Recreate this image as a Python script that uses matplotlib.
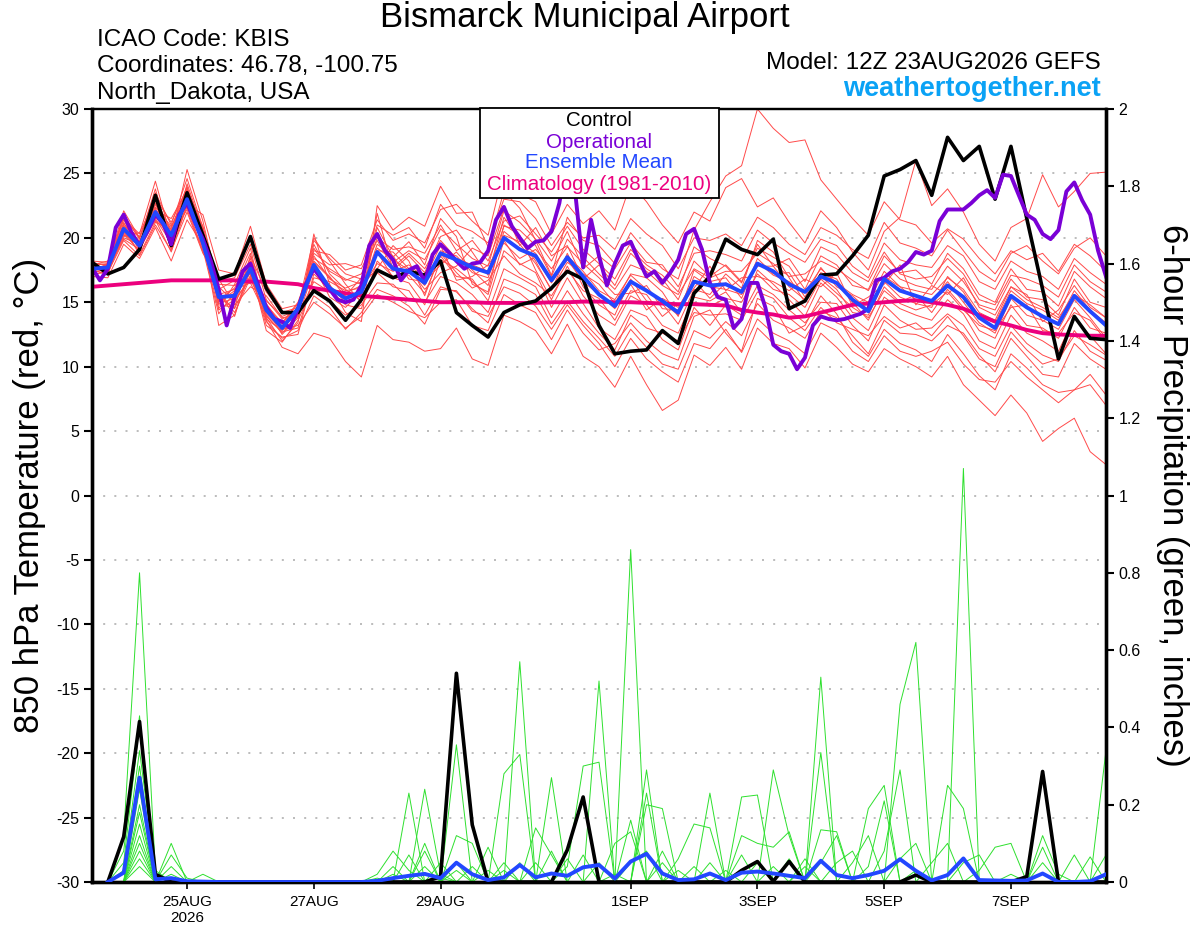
import numpy as np
import pandas as pd
import matplotlib
matplotlib.use("Agg")
import matplotlib.pyplot as plt
from matplotlib.patches import Rectangle

plt.rcParams['font.family'] = ['Liberation Sans', 'DejaVu Sans']

# ---------------- data ----------------
run_start = "2026-08-23 12:00"
tick_dates = ["2026-08-25", "2026-08-27", "2026-08-29", "2026-09-01",
              "2026-09-03", "2026-09-05", "2026-09-07"]
tick_labels = ["25AUG\n2026", "27AUG", "29AUG", "1SEP", "3SEP", "5SEP", "7SEP"]

temp_ticks = [-30, -25, -20, -15, -10, -5, 0, 5, 10, 15, 20, 25, 30]
precip_ticks = [0, 0.2, 0.4, 0.6, 0.8, 1.0, 1.2, 1.4, 1.6, 1.8, 2.0]
precip_tick_labels = ["0", "0.2", "0.4", "0.6", "0.8", "1", "1.2", "1.4", "1.6", "1.8", "2"]

# 850 hPa temperature, 6-hourly (control, ensemble mean, climatology)
control_t = [18.1, 17.2, 17.7, 19.1, 23.3, 19.4, 23.5, 20.2, 16.8, 17.2,
             20.1, 16.1, 14.2, 14.2, 15.9, 15.1, 13.6, 15.2, 17.5, 16.9,
             17.4, 17.1, 18.2, 14.2, 13.2, 12.3, 14.2, 14.8, 15.1, 16.1,
             17.4, 16.8, 13.2, 11.0, 11.2, 11.3, 12.8, 11.8, 15.7, 17.0,
             19.9, 19.1, 18.7, 19.9, 14.5, 15.1, 17.1, 17.2, 18.6, 20.2,
             24.8, 25.3, 26.0, 23.3, 27.8, 26.0, 27.1, 23.0, 27.1, 21.5,
             16.0, 10.6, 13.9, 12.2, 12.1]
mean_t = [17.6, 17.7, 20.7, 19.4, 22.0, 20.2, 23.0, 19.6, 15.4, 15.5,
          17.6, 14.4, 13.0, 14.5, 17.9, 16.1, 15.3, 15.8, 18.9, 17.6,
          17.4, 16.5, 18.8, 18.3, 17.7, 17.3, 20.0, 19.1, 18.6, 16.7,
          18.5, 17.0, 15.6, 14.7, 16.6, 15.9, 15.1, 14.2, 16.6, 16.3,
          16.4, 15.8, 18.0, 17.4, 16.4, 15.8, 17.0, 16.5, 15.2, 14.3,
          16.8, 15.9, 15.5, 15.1, 16.3, 15.4, 13.8, 13.0, 15.5, 14.6,
          13.9, 13.3, 15.5, 14.3, 13.2]
climo_t = [16.2, 16.3, 16.4, 16.5, 16.6, 16.7, 16.7, 16.7, 16.7, 16.7,
           16.6, 16.6, 16.5, 16.4, 16.1, 15.9, 15.7, 15.5, 15.4, 15.3,
           15.2, 15.1, 15.0, 15.0, 15.0, 14.95, 14.95, 14.95, 14.95, 15.0,
           15.0, 15.05, 15.05, 15.0, 15.0, 14.95, 14.9, 14.85, 14.85, 14.8,
           14.75, 14.4, 14.2, 14.05, 13.8, 13.9, 14.2, 14.5, 14.8, 14.9,
           15.0, 15.1, 15.15, 15.0, 14.8, 14.5, 14.0, 13.5, 13.2, 12.85,
           12.6, 12.5, 12.45, 12.4, 12.4]

# operational run, 3-hourly
oper_t = [17.7, 16.7, 17.6, 20.8, 21.8, 20.4, 19.4, 20.5, 21.8, 21.1,
          19.5, 21.8, 22.7, 21.2, 19.9, 18.2, 16.0, 13.2, 15.4, 17.4,
          18.0, 16.3, 14.6, 13.7, 13.5, 13.0, 14.5, 16.4, 17.6, 16.8,
          16.0, 15.2, 15.0, 15.2, 16.3, 19.4, 20.3, 19.0, 18.3, 16.7,
          17.5, 17.8, 16.6, 18.7, 19.5,
          18.9, 18.2, 17.6, 18.0, 18.1, 19.0, 21.4, 22.4, 20.9, 20.0,
          19.2, 19.7, 19.8, 20.5, 22.7, 26.5, 23.5, 17.7, 21.4, 18.6,
          16.3, 18.0, 19.4, 19.7, 18.3, 17.0, 17.4, 16.5, 17.3, 18.3,
          20.3, 20.7, 19.1, 16.5, 15.4, 15.2, 13.0, 13.7, 16.5, 16.5,
          14.6,
          11.7, 11.2, 11.0, 9.8, 10.7, 13.2, 13.9, 13.7, 13.6, 13.7,
          13.9, 14.1, 14.5, 16.7, 16.9, 17.4, 17.6, 18.1, 18.9, 18.7,
          19.0, 21.3, 22.2, 22.2, 22.2, 22.7, 23.3, 23.7, 23.1, 24.9,
          24.8, 23.3, 21.8, 21.4, 20.3, 19.9, 20.6, 23.6, 24.3, 22.9,
          21.8, 19.0, 17.0]

# ensemble members, 850 hPa temperature, 6-hourly
mem_t01 = [17.8, 17.5, 21.2, 19.0, 22.6, 20.5, 23.8, 20.1, 15.0, 15.9, 18.2, 14.0, 12.6, 14.0,
           19.5, 17.2, 16.0, 15.1, 20.8, 18.5, 19.7, 17.9, 21.5, 20.1, 16.4, 15.8, 21.0, 20.2, 17.5, 15.2, 17.8, 15.5,
           14.0, 13.2, 15.5, 14.8, 13.2, 12.6, 15.4, 15.1, 15.8, 14.2, 17.5, 16.4, 15.2, 13.9, 16.5, 15.4, 13.8,
           12.8, 15.4, 14.5, 14.0, 13.6, 15.2, 14.1, 12.0, 11.4, 14.0, 12.6, 12.0, 11.2, 13.8, 12.4, 11.0]
mem_t02 = [17.4, 18.0, 20.2, 19.8, 21.5, 19.6, 22.4, 19.0, 16.2, 15.0, 17.0, 14.8, 13.4, 15.0,
           18.4, 17.6, 16.8, 16.4, 19.0, 18.9, 17.6, 16.0, 17.3, 17.8, 19.2, 18.6, 22.3, 19.4, 20.8, 18.6, 19.4, 16.8,
           17.9, 16.3, 18.8, 17.6, 16.8, 15.2, 18.2, 17.0, 17.9, 16.6, 19.2, 18.5, 17.8, 16.0, 18.6, 17.9, 16.3,
           16.0, 18.6, 17.3, 17.5, 16.4, 18.8, 17.6, 15.6, 15.0, 17.6, 16.0, 15.8, 14.7, 17.4, 16.2, 15.3]
mem_t03 = [18.0, 17.9, 22.1, 20.0, 23.5, 21.0, 24.6, 20.8, 14.5, 16.4, 19.2, 13.8, 12.0, 13.4,
           20.3, 16.4, 14.2, 13.5, 22.5, 20.6, 21.6, 20.9, 24.0, 21.9, 22.0, 19.3, 23.6, 22.3, 19.8, 17.1, 21.6, 19.8,
           19.4, 18.0, 20.4, 18.9, 17.6, 16.8, 20.6, 22.8, 24.8, 25.6, 30.0, 28.5, 27.4, 27.6, 24.5, 23.0, 21.5,
           20.2, 22.8, 21.4, 21.0, 19.6, 20.7, 19.9, 18.4, 17.2, 19.0, 18.3, 18.8, 17.4, 19.5, 18.6, 17.4]
mem_t04 = [17.2, 17.3, 19.8, 18.6, 21.0, 19.0, 22.0, 18.8, 16.8, 14.8, 16.2, 15.5, 13.8, 14.0,
           16.6, 15.8, 15.5, 16.9, 17.3, 16.2, 15.9, 14.0, 16.2, 15.8, 14.5, 13.4, 16.8, 16.3, 15.6, 13.3, 15.1, 13.5,
           12.2, 10.8, 12.9, 11.5, 10.2, 9.8, 12.8, 12.2, 13.5, 12.4, 14.9, 13.6, 13.0, 12.2, 14.3, 13.8, 12.4,
           11.0, 13.6, 12.6, 12.5, 12.0, 13.2, 12.6, 10.9, 9.6, 12.2, 10.8, 9.4, 9.2, 11.8, 10.6, 9.8]
mem_t05 = [17.6, 17.8, 20.6, 19.6, 22.4, 20.9, 23.3, 20.5, 15.8, 13.9, 18.0, 13.6, 11.5, 11.0,
           12.6, 12.2, 10.4, 9.2, 13.2, 12.1, 11.9, 11.2, 11.4, 13.0, 10.6, 10.1, 14.0, 13.5, 12.8, 11.0, 13.3, 10.8,
           10.0, 8.4, 10.8, 8.6, 6.6, 7.4, 10.9, 10.1, 11.5, 9.8, 13.0, 11.8, 11.4, 9.9, 12.6, 11.5, 10.2,
           9.6, 11.4, 10.6, 10.0, 9.2, 10.8, 8.6, 7.4, 6.2, 7.8, 6.4, 4.2, 5.2, 6.0, 3.4, 2.4]
mem_t06 = [18.2, 18.1, 21.5, 20.3, 24.4, 20.0, 25.3, 21.3, 16.0, 16.7, 17.3, 15.1, 13.9, 14.4,
           19.0, 18.7, 17.5, 17.9, 21.4, 19.8, 20.3, 19.6, 22.2, 22.6, 21.3, 20.2, 25.2, 23.4, 22.8, 20.3, 22.6, 21.1,
           22.1, 20.6, 24.2, 22.8, 21.0, 19.6, 22.0, 21.3, 23.9, 24.6, 22.4, 23.1, 21.2, 19.6, 22.1, 20.8, 18.9,
           17.5, 20.5, 21.6, 26.0, 22.5, 23.8, 22.0, 19.5, 18.2, 20.8, 21.5, 24.9, 22.4, 23.6, 25.0, 25.1]
mem_t07 = [17.0, 16.9, 19.5, 18.4, 20.8, 18.2, 21.4, 19.4, 14.4, 15.2, 16.8, 14.1, 12.9, 13.2,
           15.0, 14.1, 13.0, 13.9, 15.6, 15.0, 14.3, 13.8, 15.0, 15.2, 13.2, 12.8, 15.6, 14.8, 14.2, 12.1, 14.4, 12.6,
           11.3, 11.8, 13.4, 12.0, 11.0, 10.5, 13.9, 14.4, 12.6, 11.2, 15.3, 14.7, 12.6, 13.2, 15.5, 14.1, 11.9,
           10.8, 12.9, 11.8, 11.3, 10.4, 12.5, 11.0, 9.3, 8.2, 11.0, 9.9, 8.6, 8.0, 8.2, 9.4, 7.8]
mem_t08 = [17.7, 17.6, 21.0, 19.2, 22.1, 21.5, 23.7, 20.0, 13.2, 14.0, 17.5, 13.2, 12.3, 12.5,
           17.2, 16.0, 14.8, 14.5, 18.2, 17.0, 17.1, 15.7, 18.6, 17.0, 16.8, 15.1, 19.0, 18.0, 17.3, 14.6, 16.9, 14.9,
           13.0, 12.1, 14.4, 13.9, 12.1, 11.3, 14.6, 13.2, 14.8, 14.0, 16.3, 15.6, 14.4, 13.4, 15.0, 14.9, 13.2,
           12.0, 14.8, 13.6, 12.9, 13.0, 14.1, 13.2, 11.4, 10.8, 13.2, 11.8, 10.9, 10.4, 12.8, 11.2, 10.5]
mem_t09 = [17.9, 18.2, 20.9, 20.1, 23.0, 20.6, 22.6, 21.8, 17.5, 17.2, 20.9, 16.4, 14.5, 14.8,
           18.8, 17.9, 18.0, 17.6, 20.2, 18.1, 19.0, 18.3, 20.7, 19.5, 18.4, 17.8, 22.1, 21.2, 19.9, 18.2, 20.5, 17.6,
           18.6, 17.6, 19.6, 18.1, 17.9, 16.2, 18.8, 19.0, 18.7, 18.2, 20.6, 19.6, 18.8, 18.1, 19.9, 19.4, 17.8,
           16.9, 19.6, 18.3, 17.9, 17.7, 19.4, 18.6, 16.6, 16.0, 18.2, 17.4, 17.0, 16.0, 18.4, 17.3, 16.4]
mem_t10 = [17.5, 17.2, 20.3, 19.0, 21.7, 19.8, 22.9, 19.3, 15.1, 15.7, 17.9, 14.6, 13.3, 14.9,
           17.8, 15.4, 14.6, 15.8, 19.5, 18.6, 16.8, 16.6, 17.9, 18.9, 17.5, 16.3, 20.5, 19.5, 18.0, 16.0, 18.1, 17.2,
           16.4, 14.9, 17.2, 16.9, 15.8, 13.9, 17.5, 16.6, 16.9, 15.3, 18.4, 17.2, 17.3, 15.4, 17.7, 16.2, 15.5,
           14.4, 17.0, 16.2, 15.2, 15.1, 16.6, 15.0, 13.4, 12.6, 15.3, 14.0, 13.6, 12.9, 15.2, 13.8, 12.2]
mem_t11 = [17.3, 17.6, 20.0, 19.5, 21.3, 20.4, 23.1, 19.7, 15.6, 16.0, 16.5, 13.9, 12.7, 13.0,
           16.9, 16.6, 15.9, 16.1, 18.0, 17.4, 17.9, 16.9, 19.4, 16.7, 17.0, 17.9, 19.6, 18.4, 19.1, 17.6, 19.3, 18.0,
           16.9, 15.6, 15.7, 16.3, 14.5, 14.4, 16.1, 17.8, 15.9, 16.9, 17.0, 16.6, 15.9, 16.8, 16.2, 17.3, 14.7,
           15.4, 16.4, 17.9, 14.8, 16.3, 15.6, 16.9, 14.6, 14.0, 16.2, 15.6, 13.5, 14.4, 16.3, 14.6, 13.8]
mem_t12 = [18.1, 17.8, 21.8, 19.9, 23.8, 19.4, 24.2, 20.6, 14.8, 14.6, 18.6, 15.8, 14.2, 14.6,
           20.0, 18.2, 16.4, 15.0, 21.9, 17.5, 18.6, 17.3, 20.1, 20.6, 18.9, 17.1, 21.6, 19.8, 18.2, 15.9, 18.8, 16.2,
           14.8, 14.0, 16.8, 15.1, 14.9, 13.3, 16.0, 15.6, 17.2, 16.1, 19.8, 18.9, 16.9, 15.0, 17.3, 16.8, 15.0,
           13.6, 16.2, 15.0, 15.6, 14.2, 16.0, 14.6, 12.8, 12.2, 14.8, 13.2, 13.0, 12.2, 14.6, 13.0, 12.6]
mem_t13 = [17.6, 17.4, 20.5, 18.9, 22.3, 20.1, 22.2, 18.9, 16.4, 16.3, 17.2, 14.3, 13.5, 14.2,
           18.1, 16.9, 15.7, 16.3, 17.6, 19.4, 18.2, 15.5, 18.8, 17.3, 16.1, 16.7, 18.6, 17.2, 16.5, 15.5, 17.5, 15.9,
           15.3, 13.6, 15.9, 15.6, 13.9, 14.9, 15.0, 14.7, 15.3, 15.0, 17.2, 16.0, 15.6, 14.6, 16.8, 15.7, 14.6,
           13.8, 15.9, 14.9, 14.4, 14.8, 15.8, 14.4, 13.2, 12.8, 14.6, 14.8, 12.8, 12.6, 14.2, 13.6, 12.0]
mem_t14 = [17.4, 17.9, 21.4, 19.3, 21.8, 20.8, 23.5, 20.3, 15.3, 15.4, 17.7, 12.8, 11.9, 13.6,
           16.2, 15.1, 14.0, 14.8, 16.5, 16.4, 15.2, 15.0, 17.0, 16.5, 15.6, 14.2, 17.6, 16.9, 16.2, 13.8, 15.9, 14.1,
           12.6, 11.3, 14.0, 13.0, 12.6, 12.0, 14.2, 14.0, 14.1, 13.6, 15.8, 15.3, 13.8, 12.8, 14.6, 13.4, 12.9,
           12.4, 13.9, 13.0, 13.4, 12.4, 13.9, 12.4, 10.6, 10.0, 12.7, 11.3, 10.2, 10.6, 12.4, 11.7, 10.9]
mem_t15 = [17.8, 17.7, 20.1, 20.4, 22.9, 19.1, 22.7, 19.8, 15.9, 14.2, 16.9, 14.9, 13.1, 14.1,
           19.2, 17.4, 16.7, 17.2, 19.8, 17.7, 18.8, 17.6, 19.8, 18.4, 17.9, 17.4, 20.9, 20.6, 19.4, 17.0, 19.9, 18.5,
           17.2, 16.0, 17.9, 17.4, 16.3, 15.6, 17.6, 16.9, 17.4, 17.4, 18.8, 18.0, 17.0, 17.2, 18.2, 17.6, 16.7,
           15.9, 18.0, 16.8, 16.3, 16.0, 17.8, 16.6, 14.8, 14.4, 16.8, 15.4, 15.2, 14.0, 16.8, 15.0, 14.6]
mem_t16 = [17.5, 17.6, 20.8, 18.7, 21.2, 20.7, 24.0, 19.1, 14.1, 15.8, 18.4, 14.5, 12.5, 13.8,
           17.5, 16.3, 15.0, 15.6, 18.9, 16.9, 16.5, 14.8, 18.3, 17.6, 16.6, 15.6, 19.8, 17.9, 18.5, 16.5, 18.3, 16.6,
           15.6, 14.5, 16.4, 14.4, 15.3, 14.6, 16.7, 15.3, 16.5, 15.8, 17.8, 17.8, 16.2, 15.2, 17.0, 16.0, 14.2,
           14.0, 16.6, 15.4, 14.9, 14.6, 17.0, 15.8, 13.9, 13.4, 15.9, 14.9, 14.4, 13.6, 15.9, 14.4, 13.4]
mem_t17 = [17.9, 18.0, 21.1, 19.7, 22.7, 19.9, 23.4, 20.9, 16.6, 16.9, 19.5, 15.2, 13.7, 14.3,
           18.6, 16.8, 16.1, 16.6, 20.0, 19.1, 19.3, 18.8, 21.0, 19.0, 19.8, 18.2, 21.3, 21.7, 20.3, 18.9, 20.9, 19.1,
           18.0, 16.8, 19.1, 17.9, 17.1, 15.8, 19.3, 18.4, 17.8, 16.5, 19.5, 17.8, 18.4, 16.6, 19.3, 18.7, 17.3,
           16.6, 18.9, 17.2, 16.8, 17.0, 18.4, 17.2, 15.2, 14.8, 17.1, 16.8, 16.3, 15.4, 17.9, 16.6, 15.8]
mem_t18 = [17.1, 17.5, 19.9, 19.1, 21.4, 18.9, 22.5, 19.5, 15.5, 14.5, 17.1, 13.5, 12.2, 12.8,
           15.5, 14.6, 12.9, 14.2, 16.0, 15.5, 14.7, 13.3, 16.0, 15.9, 14.3, 13.9, 16.2, 15.7, 14.7, 12.9, 14.8, 13.2,
           11.8, 10.0, 12.2, 10.6, 9.6, 8.8, 11.8, 11.4, 12.9, 11.1, 13.7, 12.6, 12.0, 11.0, 13.4, 12.8, 11.2,
           10.4, 12.4, 11.2, 10.8, 11.2, 11.9, 10.2, 9.0, 8.8, 10.4, 9.2, 8.2, 7.2, 8.2, 8.6, 7.0]
mem_t19 = [17.7, 17.3, 20.4, 19.4, 22.2, 20.3, 23.2, 20.2, 14.9, 15.3, 18.1, 14.2, 13.0, 14.7,
           18.2, 17.0, 15.4, 15.9, 19.2, 18.3, 17.5, 16.3, 19.0, 18.6, 17.3, 16.9, 20.2, 19.7, 18.8, 16.8, 18.6, 17.4,
           15.9, 15.2, 17.1, 16.0, 15.0, 14.0, 17.0, 16.2, 16.0, 15.6, 18.1, 17.1, 16.6, 15.8, 17.6, 16.5, 15.6,
           15.0, 17.4, 16.2, 15.9, 15.6, 16.9, 16.0, 14.2, 13.6, 16.2, 15.2, 14.6, 13.8, 15.6, 14.8, 13.8]
mem_t20 = [18.0, 17.9, 21.6, 20.0, 23.1, 21.2, 23.9, 20.7, 15.2, 16.1, 18.8, 13.7, 12.8, 13.9,
           19.8, 18.4, 17.2, 16.8, 21.0, 20.2, 20.8, 19.2, 22.6, 21.0, 20.5, 19.6, 23.0, 22.8, 21.5, 19.4, 21.2, 20.0,
           20.2, 19.1, 21.5, 20.3, 19.4, 17.6, 20.0, 19.8, 20.3, 19.4, 21.6, 20.8, 19.5, 18.7, 20.8, 20.2, 19.1,
           18.4, 21.2, 19.6, 19.2, 18.6, 20.6, 19.0, 17.4, 16.6, 18.8, 19.4, 18.2, 17.2, 19.2, 20.0, 18.6]

# 6-hour precipitation (inches), valid from the first 6 h onward
control_p = [0, .117, .415, .02, 0, 0, 0, 0, 0, 0, 0, 0, 0, 0, 0, 0,
             0, 0, 0, 0, 0, .014, .54, .148, 0, 0, 0, 0, 0, .083, .22, 0,
             0, 0, 0, 0, 0, 0, 0, 0, .03, .053, .002, .053, 0, 0, 0, 0,
             0, 0, 0, .018, 0, 0, 0, 0, 0, 0, .014, .286, 0, 0, 0, 0]
mean_p = [0, .024, .27, .007, .01, .002, .001, 0, 0, 0, 0, 0, 0, 0, 0, 0,
          0, .003, .01, .016, .021, .01, .05, .02, .005, .012, .044, .012, .022, .016, .038, .044,
          .009, .053, .073, .022, .005, .007, .022, .005, .024, .027, .022, .016, .01, .055, .018, .01,
          .018, .029, .059, .029, .004, .018, .061, .005, .004, .003, .004, .022, 0, 0, .002, .02]

mem_p01 = [0,.12,.80,.03,0,0,0,0, 0,0,0,0,0,0,0,0, 0,0,0,0,0,0,0,0, 0,0,.05,0,0,0,0,0, 0,.86,0,0,0,0,0,0, 0,0,0,0,0,.53,0,0, 0,0,0,0,0,0,0,0, 0,0,0,0,0,0,.065,0]
mem_p02 = [0,.08,.43,.02,0,0,0,0, 0,0,0,0,0,0,0,0, 0,.02,.08,.03,0,0,0,0, 0,0,0,.05,0,0,0,0, 0,0,.29,0,0,0,0,0, 0,0,0,0,0,.335,0,0, 0,0,0,0,0,0,0,0, 0,0,0,0,0,0,0,.34]
mem_p03 = [0,.05,.41,0,0,0,0,0, 0,0,0,0,0,0,0,0, 0,.01,0,0,0,0,.05,0, 0,0,0,0,.08,0,0,0, 0,0,.23,0,0,0,0,0, 0,0,0,0,0,.135,.13,0, 0,0,0,0,0,0,0,0, 0,0,0,0,0,0,0,.07]
mem_p04 = [0,.03,.34,.02,0,0,0,0, 0,0,0,0,0,0,0,0, 0,0,.04,0,.10,0,0,0, 0,0,0,0,0,0,0,0, 0,0,0,.08,0,0,0,0, 0,0,0,0,0,.05,.12,0, 0,0,0,0,0,0,0,0, 0,0,0,0,0,0,0,0]
mem_p05 = [0,0,.24,0,.10,0,0,0, 0,0,0,0,0,0,0,0, 0,0,.02,0,0,0,0,0, 0,0,0,0,0,.06,0,0, 0,0,0,0,.03,0,0,0, 0,0,0,0,0,0,.05,.08, 0,0,0,0,0,0,0,0, 0,0,0,0,0,0,0,0]
mem_p06 = [0,0,.20,0,.07,.01,0,0, 0,0,0,0,0,0,0,0, 0,0,0,.23,0,.05,0,0, 0,0,0,0,0,0,.07,0, 0,0,0,0,0,.04,0,0, 0,0,0,0,0,0,0,.05, .12,0,0,0,0,0,0,0, 0,0,0,0,0,0,0,0]
mem_p07 = [0,0,.18,0,.04,0,0,0, 0,0,0,0,0,0,0,0, 0,0,0,.07,0,0,0,0, 0,0,0,0,0,0,0,.05, 0,0,0,0,0,0,.05,0, 0,0,0,0,0,0,0,0, .19,.25,0,0,0,0,0,0, 0,0,0,0,0,0,0,0]
mem_p08 = [0,0,.15,0,.02,0,0,0, 0,0,0,0,0,0,0,0, 0,0,0,0,.24,.02,0,0, 0,0,0,0,0,0,0,0, .02,0,0,0,0,0,0,0, .07,0,0,0,0,0,0,0, .04,.21,0,0,0,0,0,0, 0,0,0,0,0,0,0,0]
mem_p09 = [0,0,.12,0,0,0,.02,0, 0,0,0,0,0,0,0,0, 0,0,0,0,.08,0,0,0, 0,0,0,0,0,0,0,0, .10,.13,0,0,0,0,0,0, 0,.05,0,0,0,0,0,0, 0,.08,.29,0,0,0,0,0, 0,0,0,0,0,0,0,0]
mem_p10 = [0,0,.10,0,0,0,0,0, 0,0,0,0,0,0,0,0, 0,0,0,0,.04,0,0,0, 0,0,0,0,0,0,0,0, 0,.16,0,0,0,0,0,0, 0,0,.04,0,0,0,0,0, 0,0,.46,.62,0,0,0,0, 0,0,0,0,0,0,0,0]
mem_p11 = [0,0,.06,0,0,0,0,0, 0,0,0,0,0,0,0,0, 0,0,0,0,0,.01,0,0, 0,0,0,0,0,0,0,0, 0,.05,.08,0,0,0,0,0, 0,0,0,.06,0,0,0,0, 0,0,.06,.10,0,0,0,0, 0,0,0,0,0,0,0,0]
mem_p12 = [0,0,.04,0,0,0,0,0, 0,0,0,0,0,0,0,0, 0,0,0,0,0,0,.355,0, 0,.05,0,0,0,0,0,0, 0,0,.20,.19,0,0,0,0, 0,0,0,0,.04,0,0,0, 0,0,0,.03,0,0,0,0, 0,0,0,0,0,0,0,0]
mem_p13 = [0,0,.08,0,0,0,0,0, 0,0,0,0,0,0,0,0, 0,0,0,0,0,0,.12,.10, 0,0,0,0,0,0,0,0, 0,0,0,.05,0,0,0,0, 0,0,0,0,0,0,0,0, 0,0,0,0,.05,.10,0,0, 0,0,0,0,0,0,0,0]
mem_p14 = [0,0,.30,0,0,0,0,0, 0,0,0,0,0,0,0,0, 0,0,0,0,0,0,.03,0, .09,0,0,0,0,0,0,0, 0,0,0,0,.06,.15,.14,0, 0,0,0,0,0,0,0,0, 0,0,0,0,0,.25,.19,0, 0,0,0,0,0,0,0,0]
mem_p15 = [0,0,0,0,0,0,0,0, 0,0,0,0,0,0,0,0, 0,0,0,0,0,0,0,.04, 0,.28,.33,0,0,0,0,0, 0,0,0,0,0,0,.23,0, 0,0,0,0,0,0,0,0, 0,0,0,0,0,0,1.07,0, 0,0,0,0,0,0,0,0]
mem_p16 = [0,0,0,0,0,0,0,0, 0,0,0,0,0,0,0,0, 0,0,0,0,0,0,0,0, .03,0,.57,0,0,0,0,0, 0,0,0,0,0,0,0,.03, 0,0,0,0,0,0,0,0, 0,0,0,0,0,0,.05,.07, 0,0,0,0,0,0,0,0]
mem_p17 = [0,0,0,0,0,0,0,0, 0,0,0,0,0,0,0,0, 0,0,0,0,0,0,0,0, 0,.03,0,.14,.07,0,0,0, 0,0,0,0,0,0,0,0, .22,.225,0,0,0,0,0,0, 0,0,0,0,0,0,0,.03, .09,.10,0,0,0,0,0,0]
mem_p18 = [0,0,0,0,0,0,0,0, 0,0,0,0,0,0,0,0, 0,0,0,0,0,0,0,0, 0,0,0,0,.27,0,0,0, 0,0,0,0,0,0,0,0, .12,.10,.09,.13,0,0,0,0, 0,0,0,0,0,0,0,0, 0,.02,0,.09,0,0,0,0]
mem_p19 = [0,0,0,0,0,0,0,0, 0,0,0,0,0,0,0,0, 0,0,0,0,0,0,0,0, 0,0,0,0,0,.04,.30,.31, 0,0,0,0,0,0,0,0, 0,0,.29,.12,0,0,0,0, 0,0,0,0,0,0,0,0, 0,0,0,.12,.02,0,0,0]
mem_p20 = [0,0,0,0,0,0,0,0, 0,0,0,0,0,0,0,0, 0,0,0,0,0,0,0,0, 0,0,0,0,0,0,0,.52, 0,0,0,0,0,0,0,0, 0,0,0,0,.06,0,0,0, 0,0,0,0,0,0,0,0, 0,0,0,.05,0,.07,0,0]

members_t = [mem_t01, mem_t02, mem_t03, mem_t04, mem_t05, mem_t06, mem_t07, mem_t08, mem_t09, mem_t10,
             mem_t11, mem_t12, mem_t13, mem_t14, mem_t15, mem_t16, mem_t17, mem_t18, mem_t19, mem_t20]
members_p = [mem_p01, mem_p02, mem_p03, mem_p04, mem_p05, mem_p06, mem_p07, mem_p08, mem_p09, mem_p10,
             mem_p11, mem_p12, mem_p13, mem_p14, mem_p15, mem_p16, mem_p17, mem_p18, mem_p19, mem_p20]

# ---------------- figure ----------------
W, H = 1200, 927
fig = plt.figure(figsize=(W / 100, H / 100), dpi=100)
L, R, T, B = 92, 1106, 109, 882
ax = fig.add_axes([L / W, 1 - B / H, (R - L) / W, (B - T) / H])
ax2 = ax.twinx()

def hours(n, step, start=0):
    return np.arange(start, start + n) * step

RED = '#ff4a4a'
GREEN = '#2ee02e'
PURPLE = '#7a00d6'
BLUE = '#2247ff'
MAGENTA = '#ec007e'

for m in members_t:
    ax.plot(hours(len(m), 6), m, color=RED, lw=0.7, zorder=2)
ax.plot(hours(len(climo_t), 6), climo_t, color=MAGENTA, lw=2.8, zorder=4)
ax.plot(hours(len(control_t), 6), control_t, color='black', lw=2.6, zorder=5)
ax.plot(hours(len(oper_t), 3), oper_t, color=PURPLE, lw=2.8, zorder=6)
ax.plot(hours(len(mean_t), 6), mean_t, color=BLUE, lw=2.8, zorder=7)

for m in members_p:
    ax2.plot(hours(len(m), 6, 1), m, color=GREEN, lw=0.7, zorder=2)
ax2.plot(hours(len(control_p), 6, 1), control_p, color='black', lw=2.6, zorder=5)
ax2.plot(hours(len(mean_p), 6, 1), mean_p, color=BLUE, lw=2.8, zorder=6)

# axes ranges
t0 = pd.Timestamp(run_start)
xt = [(pd.Timestamp(d) - t0) / pd.Timedelta(hours=1) for d in tick_dates]
ax.set_xlim(0, 384)
ax.set_ylim(-30, 30)
ax2.set_ylim(0, 2)
ax.set_xticks(xt)
ax.set_xticklabels(tick_labels, fontsize=11, linespacing=1.2)
ax.set_yticks(temp_ticks)
ax.set_yticklabels([str(v) for v in temp_ticks], fontsize=11.5)
ax2.set_yticks(precip_ticks)
ax2.set_yticklabels(precip_tick_labels, fontsize=11.5)

for v in temp_ticks[1:-1]:
    ax.axhline(v, color='#b0b0b0', lw=1.2, ls=(0, (1.2, 5.5)), zorder=1)

ax.tick_params(axis='y', direction='out', length=6, width=1.5, pad=3)
ax.tick_params(axis='x', direction='out', length=5, width=1.2, pad=4)
ax2.tick_params(axis='y', direction='out', length=6, width=1.5, pad=3)

for a in (ax, ax2):
    for s in ('left', 'bottom', 'right'):
        a.spines[s].set_linewidth(2.4)
    a.spines['top'].set_linewidth(1.6)

# texts
def fx(x):
    return x / W

def fy(y):
    return 1 - y / H

fig.text(fx(585), fy(18), 'Bismarck Municipal Airport', ha='center', va='center', fontsize=25)
fig.text(fx(97), fy(40), 'ICAO Code: KBIS', ha='left', va='center', fontsize=17.5)
fig.text(fx(97), fy(66), 'Coordinates: 46.78, -100.75', ha='left', va='center', fontsize=17.5)
fig.text(fx(97), fy(93), 'North_Dakota, USA', ha='left', va='center', fontsize=17.5)
fig.text(fx(1101), fy(63), 'Model: 12Z 23AUG2026 GEFS', ha='right', va='center', fontsize=17.5)
fig.text(fx(1101), fy(89), 'weathertogether.net', ha='right', va='center', fontsize=19.5,
         fontweight='bold', color='#0aa2f5')

fig.text(fx(30), fy(495), '850 hPa Temperature (red, \u00b0C)', rotation=90,
         ha='center', va='center', fontsize=25)
fig.text(fx(1172), fy(495), '6-hour Precipitation (green, inches)', rotation=-90,
         ha='center', va='center', fontsize=25)

# legend box
box = Rectangle((fx(480), fy(198)), (719 - 480) / W, 90 / H, transform=fig.transFigure,
                facecolor='white', edgecolor='black', lw=1.3, zorder=20)
fig.add_artist(box)
leg = [('Control', 'black', 121), ('Operational', PURPLE, 142),
       ('Ensemble Mean', BLUE, 163), ('Climatology (1981-2010)', MAGENTA, 185)]
for txt, col, yy in leg:
    fig.text(fx(599), fy(yy), txt, color=col, ha='center', va='center', fontsize=14.8, zorder=21)

fig.savefig('out.png', dpi=100)
